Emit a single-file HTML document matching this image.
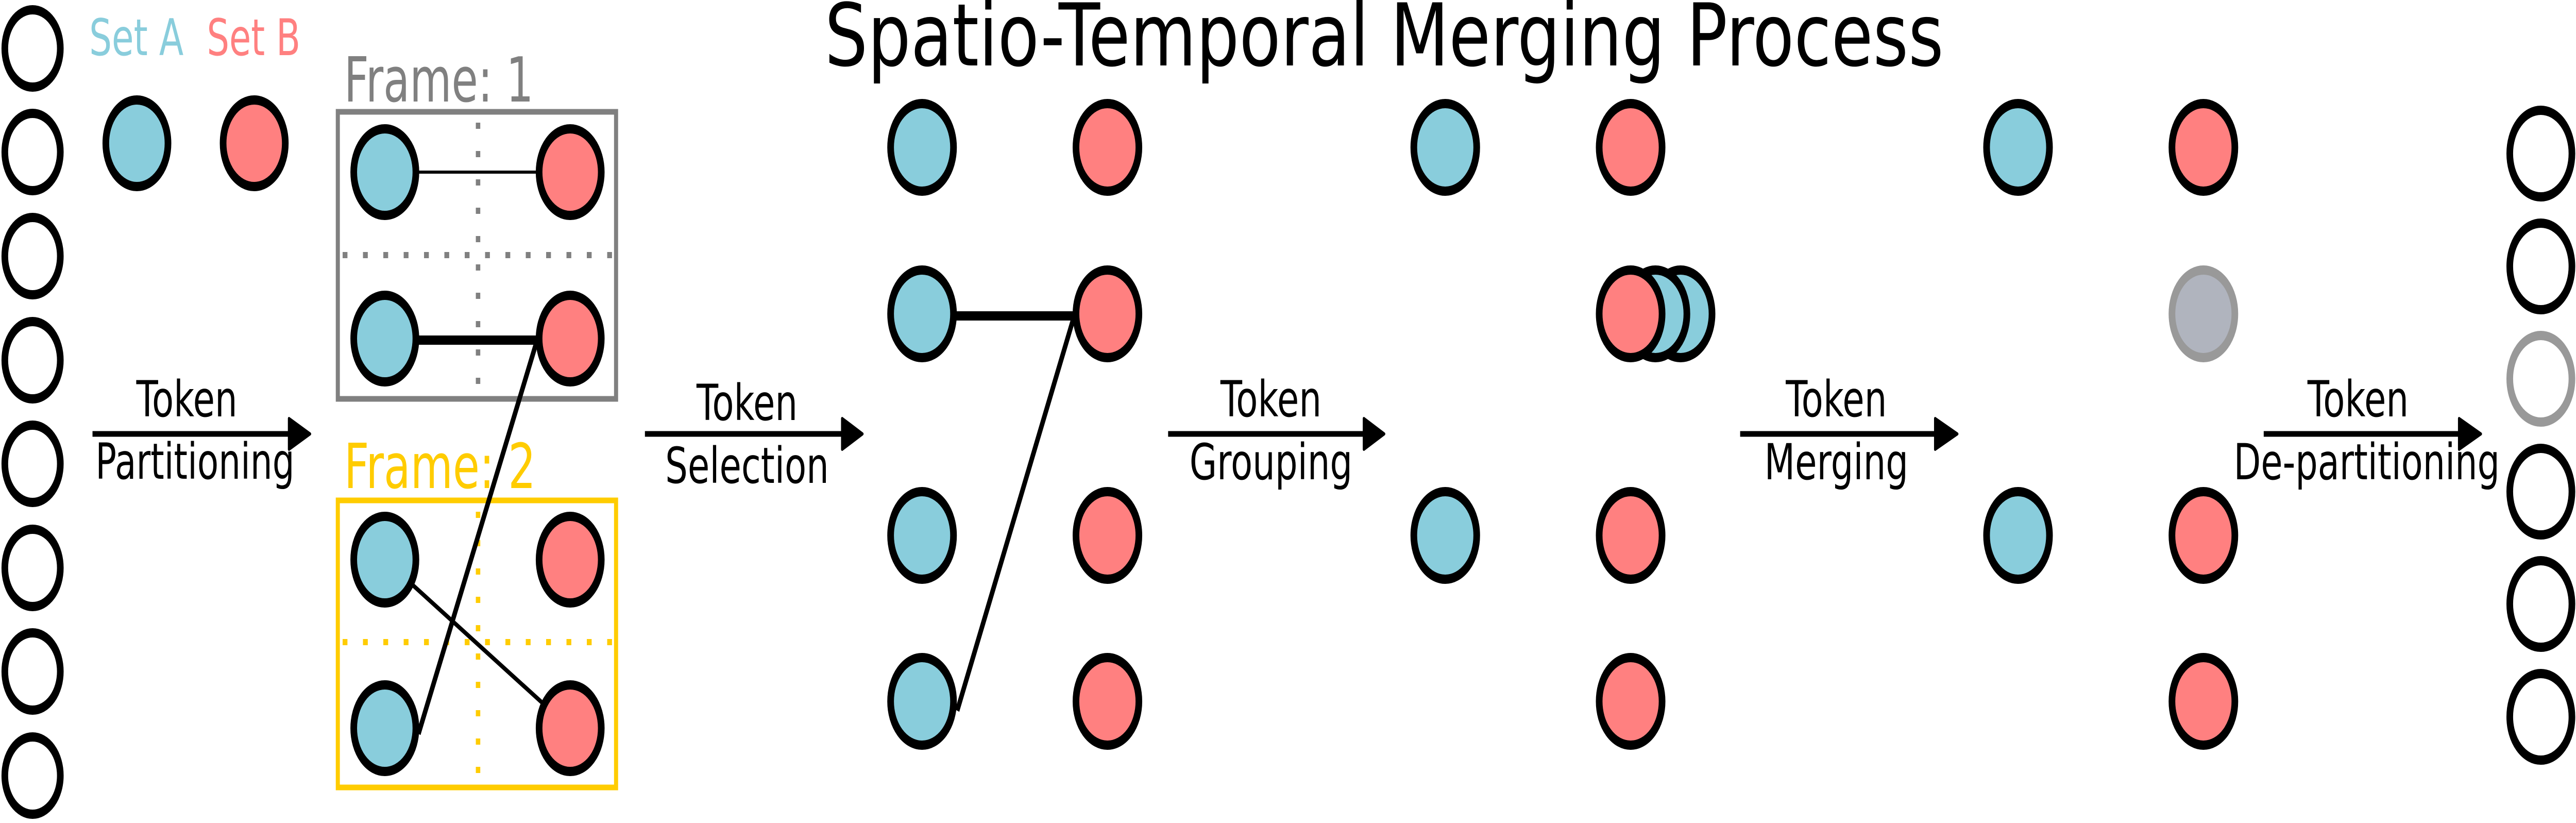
<!DOCTYPE html>
<html><head><meta charset="utf-8"><style>
html,body{margin:0;padding:0;background:#fff;width:100%;height:100%;overflow:hidden;}
svg{display:block;position:absolute;left:0;top:0;width:100vw;height:100vh;}
text{font-family:"DejaVu Sans","Liberation Sans",sans-serif;}
</style></head><body>
<svg viewBox="0 0 6962 1597" preserveAspectRatio="none" xmlns="http://www.w3.org/2000/svg">
<rect width="6962" height="1597" fill="#fff"/>

<text x="2229" y="127" font-size="168" textLength="3024" lengthAdjust="spacingAndGlyphs">Spatio-Temporal Merging Process</text>

<g fill="#fff" stroke="#000" stroke-width="18">
<circle cx="88" cy="94" r="75"/>
<circle cx="88" cy="295" r="75"/>
<circle cx="88" cy="497" r="75"/>
<circle cx="88" cy="699" r="75"/>
<circle cx="88" cy="900" r="75"/>
<circle cx="88" cy="1102" r="75"/>
<circle cx="88" cy="1303" r="75"/>
<circle cx="88" cy="1505" r="75"/>
</g>

<text x="241" y="107" font-size="98" fill="#89CDDC" textLength="255" lengthAdjust="spacingAndGlyphs">Set A</text>
<text x="559" y="107" font-size="98" fill="#FF8080" textLength="253" lengthAdjust="spacingAndGlyphs">Set B</text>
<circle cx="370" cy="278" r="84" fill="#89CDDC" stroke="#000" stroke-width="18"/>
<circle cx="687" cy="278" r="84" fill="#FF8080" stroke="#000" stroke-width="18"/>

<line x1="250" y1="842" x2="785" y2="842" stroke="#000" stroke-width="11"/>
<path d="M781 812 L838 842 L781 872 Z" fill="#000" stroke="#000" stroke-width="6" stroke-linejoin="round"/>
<text x="505" y="808" font-size="96" text-anchor="middle">Token</text>
<text x="258" y="929" font-size="96" textLength="538" lengthAdjust="spacingAndGlyphs">Partitioning</text>

<text x="930" y="197" font-size="120" fill="#808080" textLength="512" lengthAdjust="spacingAndGlyphs">Frame: 1</text>
<rect x="913" y="217" width="752" height="557" fill="none" stroke="#808080" stroke-width="11"/>
<line x1="1292" y1="238" x2="1292" y2="760" stroke="#808080" stroke-width="12" stroke-dasharray="12 43"/>
<line x1="926" y1="495" x2="1660" y2="495" stroke="#808080" stroke-width="12" stroke-dasharray="13 42"/>

<text x="930" y="947" font-size="120" fill="#FFCC00" textLength="518" lengthAdjust="spacingAndGlyphs">Frame: 2</text>
<rect x="913" y="971" width="752" height="557" fill="none" stroke="#FFCC00" stroke-width="11"/>
<line x1="1292" y1="993" x2="1292" y2="1510" stroke="#FFCC00" stroke-width="12" stroke-dasharray="12 43"/>
<line x1="926" y1="1246" x2="1660" y2="1246" stroke="#FFCC00" stroke-width="12" stroke-dasharray="13 42"/>

<line x1="1040" y1="334" x2="1541" y2="334" stroke="#000" stroke-width="6"/>
<line x1="1040" y1="660" x2="1541" y2="660" stroke="#000" stroke-width="18"/>
<line x1="1040" y1="1086" x2="1541" y2="1413" stroke="#000" stroke-width="9"/>

<g stroke="#000" stroke-width="18">
<circle cx="1040" cy="334" r="84" fill="#89CDDC"/>
<circle cx="1541" cy="334" r="84" fill="#FF8080"/>
<circle cx="1040" cy="657" r="84" fill="#89CDDC"/>
<circle cx="1541" cy="657" r="84" fill="#FF8080"/>
<circle cx="1040" cy="1086" r="84" fill="#89CDDC"/>
<circle cx="1541" cy="1086" r="84" fill="#FF8080"/>
<circle cx="1040" cy="1413" r="84" fill="#89CDDC"/>
<circle cx="1541" cy="1413" r="84" fill="#FF8080"/>
</g>
<line x1="1131" y1="1424" x2="1450" y2="664" stroke="#000" stroke-width="12"/>

<line x1="1743" y1="842" x2="2280" y2="842" stroke="#000" stroke-width="11"/>
<path d="M2276 812 L2331 842 L2276 872 Z" fill="#000" stroke="#000" stroke-width="6" stroke-linejoin="round"/>
<text x="2019" y="815" font-size="96" text-anchor="middle">Token</text>
<text x="2019" y="937" font-size="96" text-anchor="middle">Selection</text>

<line x1="2492" y1="613" x2="2993" y2="613" stroke="#000" stroke-width="18"/>
<g stroke="#000" stroke-width="18">
<circle cx="2492" cy="286" r="85" fill="#89CDDC"/>
<circle cx="2993" cy="286" r="85" fill="#FF8080"/>
<circle cx="2492" cy="609" r="85" fill="#89CDDC"/>
<circle cx="2993" cy="609" r="85" fill="#FF8080"/>
<circle cx="2492" cy="1039" r="85" fill="#89CDDC"/>
<circle cx="2993" cy="1039" r="85" fill="#FF8080"/>
<circle cx="2492" cy="1361" r="85" fill="#89CDDC"/>
<circle cx="2993" cy="1361" r="85" fill="#FF8080"/>
</g>
<line x1="2587" y1="1379" x2="2902" y2="616" stroke="#000" stroke-width="12"/>

<line x1="3157" y1="842" x2="3690" y2="842" stroke="#000" stroke-width="11"/>
<path d="M3686 812 L3741 842 L3686 872 Z" fill="#000" stroke="#000" stroke-width="6" stroke-linejoin="round"/>
<text x="3435" y="808" font-size="96" text-anchor="middle">Token</text>
<text x="3435" y="930" font-size="96" text-anchor="middle">Grouping</text>

<g stroke="#000" stroke-width="18">
<circle cx="3906" cy="286" r="85" fill="#89CDDC"/>
<circle cx="4407" cy="286" r="85" fill="#FF8080"/>
<circle cx="4542" cy="609" r="85" fill="#89CDDC"/>
<circle cx="4474" cy="609" r="85" fill="#89CDDC"/>
<circle cx="4407" cy="609" r="85" fill="#FF8080"/>
<circle cx="3906" cy="1039" r="85" fill="#89CDDC"/>
<circle cx="4407" cy="1039" r="85" fill="#FF8080"/>
<circle cx="4407" cy="1361" r="85" fill="#FF8080"/>
</g>

<line x1="4703" y1="842" x2="5235" y2="842" stroke="#000" stroke-width="11"/>
<path d="M5230 812 L5290 842 L5230 872 Z" fill="#000" stroke="#000" stroke-width="6" stroke-linejoin="round"/>
<text x="4963" y="808" font-size="96" text-anchor="middle">Token</text>
<text x="4963" y="930" font-size="96" text-anchor="middle">Merging</text>

<g stroke="#000" stroke-width="18">
<circle cx="5454" cy="286" r="85" fill="#89CDDC"/>
<circle cx="5955" cy="286" r="85" fill="#FF8080"/>
<circle cx="5955" cy="609" r="85" fill="#B0B4BE" stroke="#999999"/>
<circle cx="5454" cy="1039" r="85" fill="#89CDDC"/>
<circle cx="5955" cy="1039" r="85" fill="#FF8080"/>
<circle cx="5955" cy="1361" r="85" fill="#FF8080"/>
</g>

<line x1="6118" y1="842" x2="6650" y2="842" stroke="#000" stroke-width="11"/>
<path d="M6646 812 L6705 842 L6646 872 Z" fill="#000" stroke="#000" stroke-width="6" stroke-linejoin="round"/>
<text x="6373" y="808" font-size="96" text-anchor="middle">Token</text>
<text x="6037" y="930" font-size="96" textLength="719" lengthAdjust="spacingAndGlyphs">De-partitioning</text>

<g fill="#fff" stroke="#000" stroke-width="18">
<circle cx="6867" cy="298" r="84"/>
<circle cx="6867" cy="517" r="84"/>
<circle cx="6867" cy="735" r="84" stroke="#999999"/>
<circle cx="6867" cy="954" r="84"/>
<circle cx="6867" cy="1172" r="84"/>
<circle cx="6867" cy="1391" r="84"/>
</g>
</svg>
</body></html>
